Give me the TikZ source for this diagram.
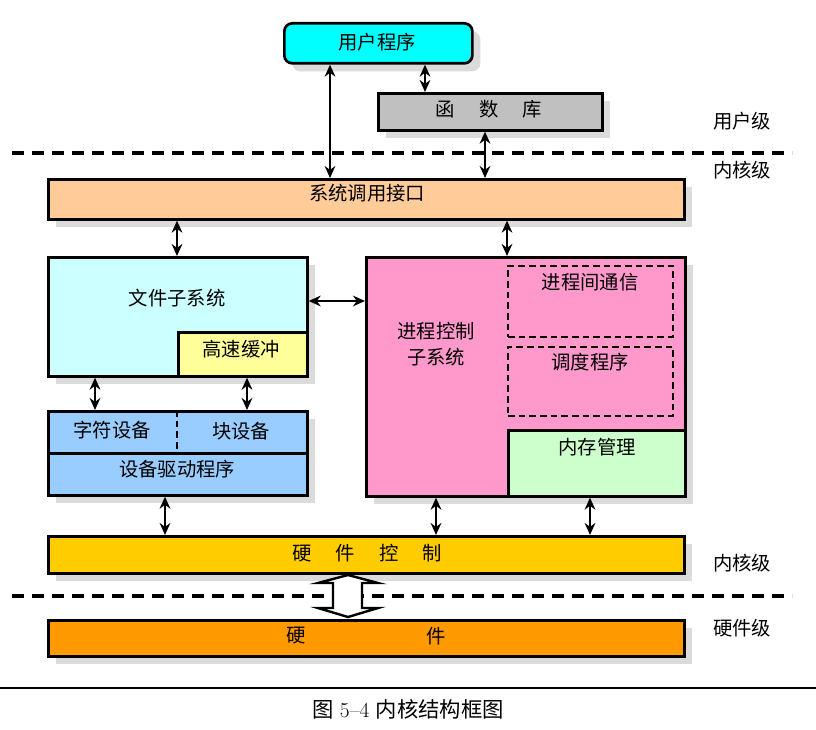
\documentclass[tikz,border=0pt]{standalone}
\usepackage{fontspec}
\newfontfamily\cjk{Noto Sans CJK SC}
\usetikzlibrary{arrows.meta,shadows}
\definecolor{cUser}{RGB}{0,255,255}
\definecolor{cLib}{RGB}{192,192,192}
\definecolor{cSci}{RGB}{255,204,153}
\definecolor{cFile}{RGB}{204,255,255}
\definecolor{cCache}{RGB}{255,255,153}
\definecolor{cDev}{RGB}{153,204,255}
\definecolor{cProc}{RGB}{255,153,204}
\definecolor{cMem}{RGB}{204,255,204}
\definecolor{cHwc}{RGB}{255,204,0}
\definecolor{cHw}{RGB}{255,153,0}
\begin{document}
\begin{tikzpicture}[x=0.75pt,y=-0.75pt,
  box/.style={draw, line width=2pt, inner sep=0pt, anchor=north west},
  shad/.style={drop shadow={shadow xshift=6pt, shadow yshift=-6pt, fill=gray!28, opacity=1}},
  dbox/.style={draw, line width=1.4pt, dash pattern=on 5pt off 3pt, inner sep=0pt, anchor=north west},
  dar/.style={{Stealth[length=9pt,width=8pt]}-{Stealth[length=9pt,width=8pt]}, line width=1.9pt},
  txt/.style={font=\cjk\fontsize{14.5}{19}\selectfont, inner sep=0pt},
  sep/.style={line width=2.4pt, dash pattern=on 9pt off 6pt}]
\useasboundingbox (0,0) rectangle (816,730);
% boxes
\node[box, shad, rounded corners=6pt, fill=cUser, minimum width=188*0.75pt, minimum height=40*0.75pt] (user) at (283,22) {};
\node[box, shad, fill=cLib, minimum width=224*0.75pt, minimum height=37*0.75pt] (lib) at (377,92) {};
\node[box, shad, fill=cSci, minimum width=636*0.75pt, minimum height=40*0.75pt] (sci) at (47,178) {};
\node[box, shad, fill=cFile, minimum width=259*0.75pt, minimum height=119*0.75pt] (file) at (47,256) {};
\node[box, fill=cCache, minimum width=129*0.75pt, minimum height=44*0.75pt] (cache) at (177,331) {};
\node[box, shad, fill=cDev, minimum width=259*0.75pt, minimum height=84*0.75pt] (devs) at (47,410) {};
\node[box, fill=cDev, minimum width=259*0.75pt, minimum height=42*0.75pt] (drv) at (47,452) {};
\node[box, shad, fill=cProc, minimum width=319*0.75pt, minimum height=239*0.75pt] (proc) at (365,256) {};
\node[dbox, minimum width=165*0.75pt, minimum height=71*0.75pt] (ipc) at (507,265) {};
\node[dbox, minimum width=165*0.75pt, minimum height=69*0.75pt] (sched) at (507,346) {};
\node[box, fill=cMem, minimum width=177*0.75pt, minimum height=66*0.75pt] (mem) at (507,429) {};
\node[box, shad, fill=cHwc, minimum width=636*0.75pt, minimum height=37*0.75pt] (hwc) at (47,535) {};
\node[box, shad, fill=cHw, minimum width=636*0.75pt, minimum height=36*0.75pt] (hw) at (47,619) {};
\coordinate (dv1) at (177,410);
\coordinate (dv2) at (177,451);
\draw[line width=1.8pt, dash pattern=on 5pt off 3pt] (dv1) -- (dv2);
% texts
\node[txt] (tuser) at (377,42) {用户程序};
\node[txt] (tlib) at (489,109) {函\hspace{1.25em}数\hspace{1.25em}库};
\node[txt] (tsci) at (367,193) {系统调用接口};
\node[txt] (tfile) at (177,298) {文件子系统};
\node[txt] (tcache) at (241,349) {高速缓冲};
\node[txt] (tchr) at (112,430) {字符设备};
\node[txt] (tblk) at (241,431) {块设备};
\node[txt] (tdrv) at (177,469) {设备驱动程序};
\node[txt, align=center] (tproc) at (436,344) {进程控制\\[1pt]子系统};
\node[txt] (tipc) at (590,282) {进程间通信};
\node[txt] (tsched) at (590,362) {调度程序};
\node[txt] (tmem) at (597,447) {内存管理};
\node[txt] (thwc) at (367,553) {硬\hspace{1.25em}件\hspace{1.25em}控\hspace{1.25em}制};
\node[txt] (thw1) at (296,636) {硬};
\node[txt] (thw2) at (436,636) {件};
\node[txt] (l1) at (742,121) {用户级};
\node[txt] (l2) at (742,170) {内核级};
\node[txt] (l3) at (742,563) {内核级};
\node[txt] (l4) at (742,628) {硬件级};
% separators
\coordinate (s1a) at (12,153); \coordinate (s1b) at (792,153);
\coordinate (s2a) at (12,596); \coordinate (s2b) at (792,596);
\draw[sep] (s1a) -- (s1b);
\draw[sep] (s2a) -- (s2b);
% arrows
\coordinate (x330) at (330,0);
\coordinate (x425) at (425,0);
\coordinate (x485) at (485,0);
\coordinate (x177) at (177,0);
\coordinate (x507) at (507,0);
\coordinate (x95) at (95,0);
\coordinate (x247) at (247,0);
\coordinate (x165) at (165,0);
\coordinate (x436) at (436,0);
\coordinate (x590) at (590,0);
\coordinate (y301) at (0,301);
\draw[dar] (user.south -| x330) -- (sci.north -| x330);
\draw[dar] (user.south -| x425) -- (lib.north -| x425);
\draw[dar] (lib.south -| x485) -- (sci.north -| x485);
\draw[dar] (sci.south -| x177) -- (file.north -| x177);
\draw[dar] (sci.south -| x507) -- (proc.north -| x507);
\draw[dar] (file.east |- y301) -- (proc.west |- y301);
\draw[dar] (file.south -| x95) -- (devs.north -| x95);
\draw[dar] (file.south -| x247) -- (devs.north -| x247);
\draw[dar] (drv.south -| x165) -- (hwc.north -| x165);
\draw[dar] (proc.south -| x436) -- (hwc.north -| x436);
\draw[dar] (proc.south -| x590) -- (hwc.north -| x590);
% big hollow arrow
\filldraw[fill=white, line width=1.8pt, line join=miter]
  (348,575) -- (378,583) -- (362,583) -- (362,608) -- (378,608) -- (348,617)
  -- (318,608) -- (333,608) -- (333,583) -- (318,583) -- cycle;
% caption
\coordinate (ca) at (0,688); \coordinate (cb) at (816,688);
\draw[line width=1.5pt] (ca) -- (cb);
\node[font=\fontsize{16}{20}\selectfont, inner sep=0pt] (cap) at (408,709) {{\cjk 图} 5--4 {\cjk 内核结构框图}};
\end{tikzpicture}
\end{document}
